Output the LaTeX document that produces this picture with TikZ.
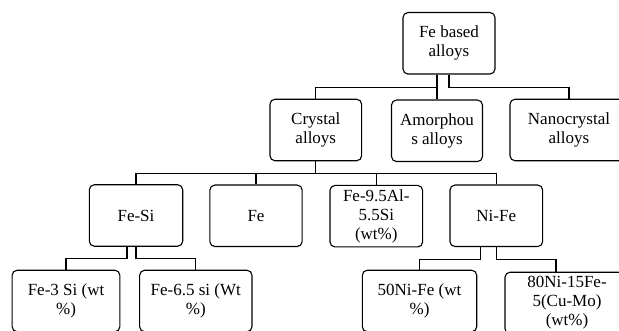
\documentclass[tikz,border=0pt]{standalone}
\usepackage{fontspec}
\setmainfont{Liberation Serif}
\usetikzlibrary{calc}
\definecolor{LineClr}{rgb}{0,0,0}

\begin{document}
\begin{tikzpicture}[x=1pt,y=-1pt,
  box/.style={draw=LineClr,line width=1.1pt,rounded corners=5pt,align=center,
    inner sep=2pt,minimum height=61.5pt,font=\fontsize{17}{19}\selectfont},
  link/.style={draw=LineClr,line width=1.1pt}]
\useasboundingbox (0,0) rectangle (619,331);

\node[box,minimum width=92pt]  (root)    at (449,43.3)  {Fe based\\alloys};

\node[box,minimum width=91.7pt] (crystal) at (315.8,130) {Crystal\\alloys};
\node[box,minimum width=91pt]   (amorph)  at (437,130.8) {Amorphou\\s alloys};
\node[box,minimum width=118pt]  (nano)    at (569,130)   {Nanocrystal\\alloys};

\node[box,minimum width=93.4pt] (fesi) at (136,215.5)   {Fe-Si};
\node[box,minimum width=92.3pt] (fe)   at (256,215.8)   {Fe};
\node[box,minimum width=92.7pt] (feal) at (376.3,216.2) {Fe-9.5Al-\\5.5Si\\(wt\%)};
\node[box,minimum width=92.7pt] (nife) at (496.3,215.8) {Ni-Fe};

\node[box,minimum width=107.7pt] (fethree) at (66,301)    {Fe-3 Si (wt\\\%)};
\node[box,minimum width=112.3pt] (fesix)   at (195.8,301) {Fe-6.5 si (Wt\\\%)};
\node[box,minimum width=114.4pt] (nifty)   at (419.5,301) {50Ni-Fe (wt\\\%)};
\node[box,minimum width=124pt]   (nieighty) at (567,303)  {80Ni-15Fe-\\5(Cu-Mo)\\(wt\%)};

% elbow connectors
\draw[link] (root.south -| amorph.north) -- (amorph.north);
\draw[link] (root.south -| amorph.north) -- ++(0,12.7) -| (crystal.north);
\draw[link] (root.south) -- ++(0,12.7) -| (nano.north);

\foreach \kid in {fesi,fe,feal,nife}
  \draw[link] (crystal.south) -- ++(0,12) -| (\kid.north);

\draw[link] ([xshift=-9pt]fesi.south) -- ++(0,11.5) -| (fethree.north);
\draw[link] (fesi.south) -- ++(0,11.5) -| (fesix.north);
\draw[link] ([xshift=-16pt]nife.south) -- ++(0,12.5) -| (nifty.north);
\draw[link] (nife.south) -- ++(0,12.5) -| ([xshift=-11pt]nieighty.north);

\end{tikzpicture}
\end{document}
